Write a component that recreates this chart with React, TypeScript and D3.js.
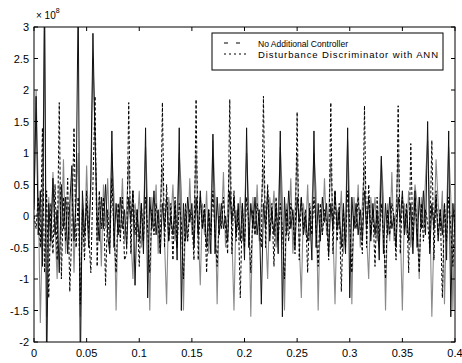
import React, { useEffect, useRef } from 'react';
import * as d3 from 'd3';

// sample interval of the recorded signals (s)
const timeStepS = 0.002;

// "No Additional Controller" (dashed), values x 1e8
const noController = [
  0.0, -0.2, 0.3, -0.5, 1.4, -0.9, 0.4, -1.3, 0.2, -0.6, 0.5, -0.7, 1.8, -1.0, 0.3, -0.4,
  0.6, -1.2, -0.2, 1.4, -0.5, 0.3, -1.4, 0.1, -0.7, 0.4, -0.3, -0.9, 0.5, 1.9, -0.8, 0.4,
  -0.2, 0.3, -1.1, 0.1, -0.5, 0.6, -0.3, -0.9, 0.2, -0.4, 0.3, -0.7, -0.6,
  1.8, -0.6, 0.4, -0.3, 0.1, -0.8, 0.2, -0.4, 0.3, -0.2, -0.9, 0.1, -0.3, 0.2, -0.1, -0.6,
  1.8, -0.5, 0.5, -0.4, 0.2, -0.7, 0.3, -0.5, 0.2, -0.1, -1.0, 0.2, -0.4, 0.1, 0.0, -0.7,
  1.85, -0.7, 0.3, -0.2, 0.2, -0.9, 0.1, -0.3, 0.4, -0.3, -0.8, 0.0, -0.2, 0.3, -0.2, -0.6,
  1.85, -0.6, 0.4, -0.4, 0.1, -1.3, 0.2, -0.5, 0.3, -0.1, -0.9, 0.1, -0.3, 0.2, -0.1, -0.5,
  1.9, -0.5, 0.5, -0.3, 0.2, -0.8, 0.3, -0.4, 0.2, -0.2, -1.0, 0.1, -0.4, 0.2, 0.0, -0.6,
  1.65, -0.7, 0.3, -0.2, 0.1, -0.9, 0.2, -0.3, 0.3, -0.2, -0.8, 0.2, -0.3, 0.1, -0.1, -0.7,
  1.8, -0.6, 0.4, -0.4, 0.2, -1.2, 0.1, -0.5, 0.4, -0.1, -0.9, 0.0, -0.2, 0.3, -0.2, -0.6,
  1.75, -0.5, 0.5, -0.3, 0.1, -0.8, 0.3, -0.4, 0.2, -0.3, -1.0, 0.1, -0.3, 0.2, 0.0, -0.7,
  1.75, -0.6, 0.3, -0.2, 0.2, -0.9, 1.15, -0.4, 0.3, -0.2, -0.9, 0.2, -0.4, 0.1, -0.1, -0.5,
  1.2, -0.7, 0.4, -0.3, 0.1, -1.3, 0.2, -0.4, 0.3, -0.2, -0.8, 0.1,
];

// "Disturbance Discriminator with ANN" (black trace)
const withAnn = [
  0.1, 1.9, -0.3, 0.4, -0.8, 3.5, -2.5, 0.2, -0.4, 0.6, -0.3, 0.1, -0.9, 0.5, -0.2, 0.3,
  -0.6, 0.2, 0.8, -0.4, 0.3, 3.5, -2.5, 0.4, -0.3, 0.2, -0.5, 0.6, 2.9, 1.2, 0.0, -0.4,
  0.3, -0.2, 0.5, -0.3, -0.6,
  1.35, -0.5, 0.2, -0.3, 0.3, -0.2, 0.1, -0.5, 0.3, -0.1, 0.4, -1.1, 0.1, -0.4, 0.2, -0.6,
  1.4, -1.3, 0.3, -0.2, 0.4, -0.3, 0.1, -0.6, 0.2, -0.2, 0.3, -0.4, 0.0, -0.3, 0.2, -0.7,
  1.4, -1.5, 0.2, -0.4, 0.3, -0.1, 0.2, -0.5, 0.3, -0.3, 0.4, -0.2, 0.1, -0.5, 0.1, -0.6,
  1.3, -0.6, 0.3, -0.3, 0.2, -0.2, 0.0, -0.4, 0.4, -0.1, 0.3, -0.3, 0.2, -0.4, 0.2, -0.7,
  1.4, -0.5, 0.2, -0.2, 0.3, -0.3, 0.1, -1.4, 0.2, -0.2, 0.4, -0.4, 0.1, -0.3, 0.2, -0.6,
  1.35, -1.6, 0.3, -0.3, 0.4, -0.2, 0.1, -0.5, 0.3, -0.1, 0.3, -0.3, 0.0, -0.4, 0.1, -0.7,
  1.35, -0.5, 0.2, -0.4, 0.3, -0.1, 0.2, -0.6, 0.2, -0.2, 0.4, -0.2, 0.1, -0.5, 0.2, -0.6,
  1.4, -1.3, 0.3, -0.2, 0.2, -0.3, 0.1, -0.4, 0.4, -0.2, 0.3, -0.4, 0.2, -0.3, 0.1, -0.7,
  0.95, -0.6, 0.2, -0.3, 0.3, -0.2, 0.0, -0.5, 0.3, -0.1, 0.4, -0.3, 0.1, -0.4, 0.2, -0.6,
  0.4, -0.5, 0.3, -0.2, 0.4, -0.3, 1.5, -0.6, 0.2, -0.2, 0.3, -0.4, 0.1, -0.3, 0.2, -0.7,
  1.35, -1.6, 0.2, -0.3,
];

// third (unlabelled) trace, printed grey in the scan
const greyTrace = [
  0.2, 2.0, 0.4, -1.7, -0.2, 3.3, -1.6, 0.3, -0.5, 0.7, -0.2, -1.0, 0.5, -0.3, 0.9, -0.6,
  0.2, -0.4, 0.6, -0.9, 0.3, 1.0, -1.6, 0.2, -0.5, 0.8, -0.3, 0.4, 2.5, 1.3, -0.4, 0.3,
  -0.8, 0.5, -0.2, 0.6, -0.3,
  1.0, 0.3, -1.5, 0.2, -0.3, 0.6, -0.4, 0.1, 0.9, -0.3, -1.0, 0.2, -0.2, 0.4, -0.5, 0.0,
  1.1, 0.2, -1.5, 0.3, -0.2, 0.5, -0.6, 0.2, 0.8, -0.4, -1.4, 0.3, -0.1, 0.5, -0.4, 0.1,
  1.0, 0.4, -1.5, 0.1, -0.4, 0.6, -0.3, 0.0, 1.0, -0.2, -1.1, 0.2, -0.3, 0.4, -0.6, 0.0,
  1.2, 0.3, -1.4, 0.2, -0.2, 0.7, -0.5, 0.1, 0.9, -0.3, -1.5, 0.1, -0.2, 0.3, -0.4, 0.1,
  1.0, 0.2, -1.6, 0.3, -0.3, 0.5, -0.4, 0.2, 0.8, -0.2, -1.0, 0.3, -0.1, 0.4, -0.5, 0.0,
  1.1, 0.3, -1.5, 0.2, -0.2, 0.6, -0.6, 0.1, 1.0, -0.4, -1.3, 0.2, -0.3, 0.5, -0.4, 0.1,
  1.0, 0.4, -1.5, 0.1, -0.3, 0.6, -0.3, 0.0, 0.9, -0.2, -1.4, 0.1, -0.2, 0.4, -0.6, 0.0,
  1.2, 0.2, -1.4, 0.3, -0.2, 0.5, -0.5, 0.2, 0.8, -0.3, -1.0, 0.3, -0.1, 0.3, -0.4, 0.1,
  0.9, 0.3, -1.5, 0.2, -0.4, 0.7, -0.4, 0.1, 1.0, -0.2, -1.5, 0.2, -0.3, 0.4, -0.5, 0.0,
  0.5, 0.2, -1.0, 0.3, -0.2, 0.6, 1.2, 0.1, -1.6, -0.3, 0.9, 0.2, -0.2, 0.4, -1.4, 0.1,
  1.1, 0.3, -1.5, 0.2,
];

const xTicks = [0, 0.05, 0.1, 0.15, 0.2, 0.25, 0.3, 0.35, 0.4];
const xTickLabels = ['0', '0.05', '0.1', '0.15', '0.2', '0.25', '0.3', '0.35', '0.4'];
const yTicks = [-2, -1.5, -1, -0.5, 0, 0.5, 1, 1.5, 2, 2.5, 3];
const yTickLabels = ['-2', '-1.5', '-1', '-0.5', '0', '0.5', '1', '1.5', '2', '2.5', '3'];
const legendLabels = ['No Additional Controller', 'Disturbance Discriminator with ANN'];

const width = 462;
const height = 363;
const margin = { top: 27, right: 7, bottom: 21, left: 34 };
const font = "'Liberation Sans', Arial, Helvetica, sans-serif";

const App = () => {
  const ref = useRef(null);

  useEffect(() => {
    const svg = d3.select(ref.current);
    svg.selectAll('*').remove();

    const x = d3.scaleLinear().domain([0, 0.4]).range([margin.left, width - margin.right]);
    const y = d3.scaleLinear().domain([-2, 3]).range([height - margin.bottom, margin.top]);

    svg.append('rect').attr('width', width).attr('height', height).attr('fill', '#fff');

    svg.append('clipPath').attr('id', 'plot-clip')
      .append('rect')
      .attr('x', x(0))
      .attr('y', y(3))
      .attr('width', x(0.4) - x(0))
      .attr('height', y(-2) - y(3));

    const line = d3.line()
      .x((d, i) => x(i * timeStepS))
      .y((d) => y(d));

    const traces = svg.append('g').attr('clip-path', 'url(#plot-clip)');
    traces.append('path').datum(greyTrace)
      .attr('d', line).attr('fill', 'none').attr('stroke', '#8a8a8a').attr('stroke-width', 1.1);
    traces.append('path').datum(withAnn)
      .attr('d', line).attr('fill', 'none').attr('stroke', '#111').attr('stroke-width', 1);
    traces.append('path').datum(noController)
      .attr('d', line).attr('fill', 'none').attr('stroke', '#000').attr('stroke-width', 1)
      .attr('stroke-dasharray', '3,2');

    // axes box
    svg.append('rect')
      .attr('x', x(0)).attr('y', y(3))
      .attr('width', x(0.4) - x(0)).attr('height', y(-2) - y(3))
      .attr('fill', 'none').attr('stroke', '#000').attr('stroke-width', 1);

    // inward ticks, matlab style
    const ticks = svg.append('g').attr('stroke', '#000').attr('stroke-width', 1);
    xTicks.forEach((t) => {
      ticks.append('line').attr('x1', x(t)).attr('x2', x(t)).attr('y1', y(-2)).attr('y2', y(-2) - 4);
      ticks.append('line').attr('x1', x(t)).attr('x2', x(t)).attr('y1', y(3)).attr('y2', y(3) + 4);
    });
    yTicks.forEach((t) => {
      ticks.append('line').attr('x1', x(0)).attr('x2', x(0) + 4).attr('y1', y(t)).attr('y2', y(t));
      ticks.append('line').attr('x1', x(0.4)).attr('x2', x(0.4) - 4).attr('y1', y(t)).attr('y2', y(t));
    });

    svg.append('g').selectAll('text').data(xTicks).join('text')
      .attr('x', (d) => x(d))
      .attr('y', 357)
      .attr('text-anchor', 'middle')
      .style('font-family', font)
      .style('font-size', '11px')
      .text((d, i) => xTickLabels[i]);

    svg.append('g').selectAll('text').data(yTicks).join('text')
      .attr('x', x(0) - 5)
      .attr('y', (d) => y(d) + 4)
      .attr('text-anchor', 'end')
      .style('font-family', font)
      .style('font-size', '11px')
      .text((d, i) => yTickLabels[i]);

    // exponent label
    const expo = svg.append('text').attr('x', 36).attr('y', 19)
      .style('font-family', font).style('font-size', '10px');
    expo.append('tspan').text('× 10');
    expo.append('tspan').attr('dy', -6).style('font-size', '7px').text('8');

    // legend
    const legend = svg.append('g');
    legend.append('rect')
      .attr('x', 212).attr('y', 33).attr('width', 231).attr('height', 37)
      .attr('fill', '#fff').attr('stroke', '#000').attr('stroke-width', 1);
    const rows = [
      { y: 43, dash: '4,8', width: 90, adjust: 'spacingAndGlyphs' },
      { y: 54, dash: '2,3', width: 180, adjust: 'spacing' },
    ];
    rows.forEach((r, i) => {
      legend.append('line')
        .attr('x1', 224).attr('x2', 246).attr('y1', r.y).attr('y2', r.y)
        .attr('stroke', '#000').attr('stroke-width', 1).attr('stroke-dasharray', r.dash);
      legend.append('text')
        .attr('x', 258).attr('y', r.y + 4)
        .attr('textLength', r.width)
        .attr('lengthAdjust', r.adjust)
        .style('font-family', font)
        .style('font-size', '9.5px')
        .text(legendLabels[i]);
    });
  }, []);

  return (
    <svg
      ref={ref}
      width={width}
      height={height}
      style={{ position: 'absolute', left: 0, top: 0, background: '#fff' }}
    />
  );
};

export default App;
